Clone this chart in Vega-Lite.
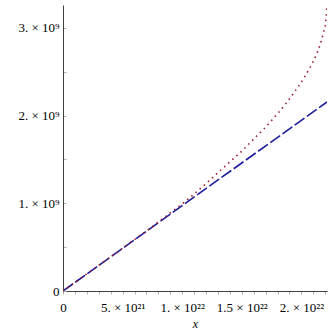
{
  "$schema": "https://vega.github.io/schema/vega-lite/v6.json",
  "autosize": {"type": "none"},
  "padding": {"left": 63, "top": 5, "right": 5, "bottom": 41},
  "width": 264,
  "height": 286,
  "background": "white",
  "config": {
    "view": {"stroke": null},
    "axis": {
      "grid": false,
      "domainColor": "#404040",
      "domainWidth": 1,
      "tickColor": "#b0b0b0",
      "tickSize": 3,
      "labelFont": "Liberation Serif",
      "labelFontSize": 13,
      "labelColor": "#000000",
      "titleFont": "Liberation Serif",
      "titleColor": "#000000",
      "labelOverlap": false,
      "labelFlush": false,
      "labelBound": false
    }
  },
  "data": {
    "values": [
      {"x": 0, "y": 0, "s": "b"},
      {"x": 2.215e22, "y": 2.155e9, "s": "b"},
      {"x": 0, "y": 0, "s": "r"},
      {"x": 2.0e21, "y": 1.95e8, "s": "r"},
      {"x": 4.0e21, "y": 3.9e8, "s": "r"},
      {"x": 6.0e21, "y": 5.86e8, "s": "r"},
      {"x": 8.0e21, "y": 7.85e8, "s": "r"},
      {"x": 9.14e21, "y": 9.05e8, "s": "r"},
      {"x": 9.92e21, "y": 9.85e8, "s": "r"},
      {"x": 1.068e22, "y": 1.068e9, "s": "r"},
      {"x": 1.141e22, "y": 1.155e9, "s": "r"},
      {"x": 1.216e22, "y": 1.243e9, "s": "r"},
      {"x": 1.286e22, "y": 1.332e9, "s": "r"},
      {"x": 1.359e22, "y": 1.42e9, "s": "r"},
      {"x": 1.432e22, "y": 1.511e9, "s": "r"},
      {"x": 1.504e22, "y": 1.6e9, "s": "r"},
      {"x": 1.571e22, "y": 1.692e9, "s": "r"},
      {"x": 1.638e22, "y": 1.784e9, "s": "r"},
      {"x": 1.675e22, "y": 1.833e9, "s": "r"},
      {"x": 1.742e22, "y": 1.932e9, "s": "r"},
      {"x": 1.806e22, "y": 2.031e9, "s": "r"},
      {"x": 1.865e22, "y": 2.128e9, "s": "r"},
      {"x": 1.924e22, "y": 2.235e9, "s": "r"},
      {"x": 1.98e22, "y": 2.341e9, "s": "r"},
      {"x": 2.033e22, "y": 2.455e9, "s": "r"},
      {"x": 2.081e22, "y": 2.568e9, "s": "r"},
      {"x": 2.125e22, "y": 2.693e9, "s": "r"},
      {"x": 2.159e22, "y": 2.815e9, "s": "r"},
      {"x": 2.184e22, "y": 2.94e9, "s": "r"},
      {"x": 2.204e22, "y": 3.072e9, "s": "r"},
      {"x": 2.212e22, "y": 3.201e9, "s": "r"},
      {"x": 2.215e22, "y": 3.27e9, "s": "r"}
    ]
  },
  "encoding": {
    "x": {
      "field": "x",
      "type": "quantitative",
      "scale": {"domain": [0, 2.215e22], "nice": false, "zero": true},
      "axis": {
        "title": "x",
        "titleFontStyle": "italic",
        "titleFontWeight": "normal",
        "titleFontSize": 12,
        "titlePadding": 4,
        "labelPadding": 7,
        "values": [0, 1e21, 2e21, 3e21, 4e21, 5e21, 6e21, 7e21, 8e21, 9e21, 1e22, 1.1e22, 1.2e22, 1.3e22, 1.4e22, 1.5e22, 1.6e22, 1.7e22, 1.8e22, 1.9e22, 2e22, 2.1e22, 2.2e22],
        "labelExpr": "datum.value == 0 ? '0' : datum.value == 5e21 ? '5. × 10²¹' : datum.value == 1e22 ? '1. × 10²²' : datum.value == 1.5e22 ? '1.5 × 10²²' : datum.value == 2e22 ? '2. × 10²²' : ''"
      }
    },
    "y": {
      "field": "y",
      "type": "quantitative",
      "scale": {"domain": [0, 3.26e9], "nice": false, "zero": true},
      "axis": {
        "title": null,
        "tickSize": -3,
        "labelPadding": 7,
        "values": [0, 5e8, 1e9, 1.5e9, 2e9, 2.5e9, 3e9],
        "labelExpr": "datum.value == 0 ? '0' : datum.value == 1e9 ? '1. × 10⁹' : datum.value == 2e9 ? '2. × 10⁹' : datum.value == 3e9 ? '3. × 10⁹' : ''"
      }
    }
  },
  "layer": [
    {
      "transform": [{"filter": "datum.s == 'b'"}],
      "mark": {"type": "line", "color": "#1c1c9c", "strokeWidth": 1.6, "strokeDash": [12, 3], "clip": true}
    },
    {
      "transform": [{"filter": "datum.s == 'r'"}],
      "mark": {"type": "line", "color": "#a0182e", "strokeWidth": 1.6, "strokeDash": [1.5, 4], "interpolate": "monotone", "clip": true}
    }
  ]
}
